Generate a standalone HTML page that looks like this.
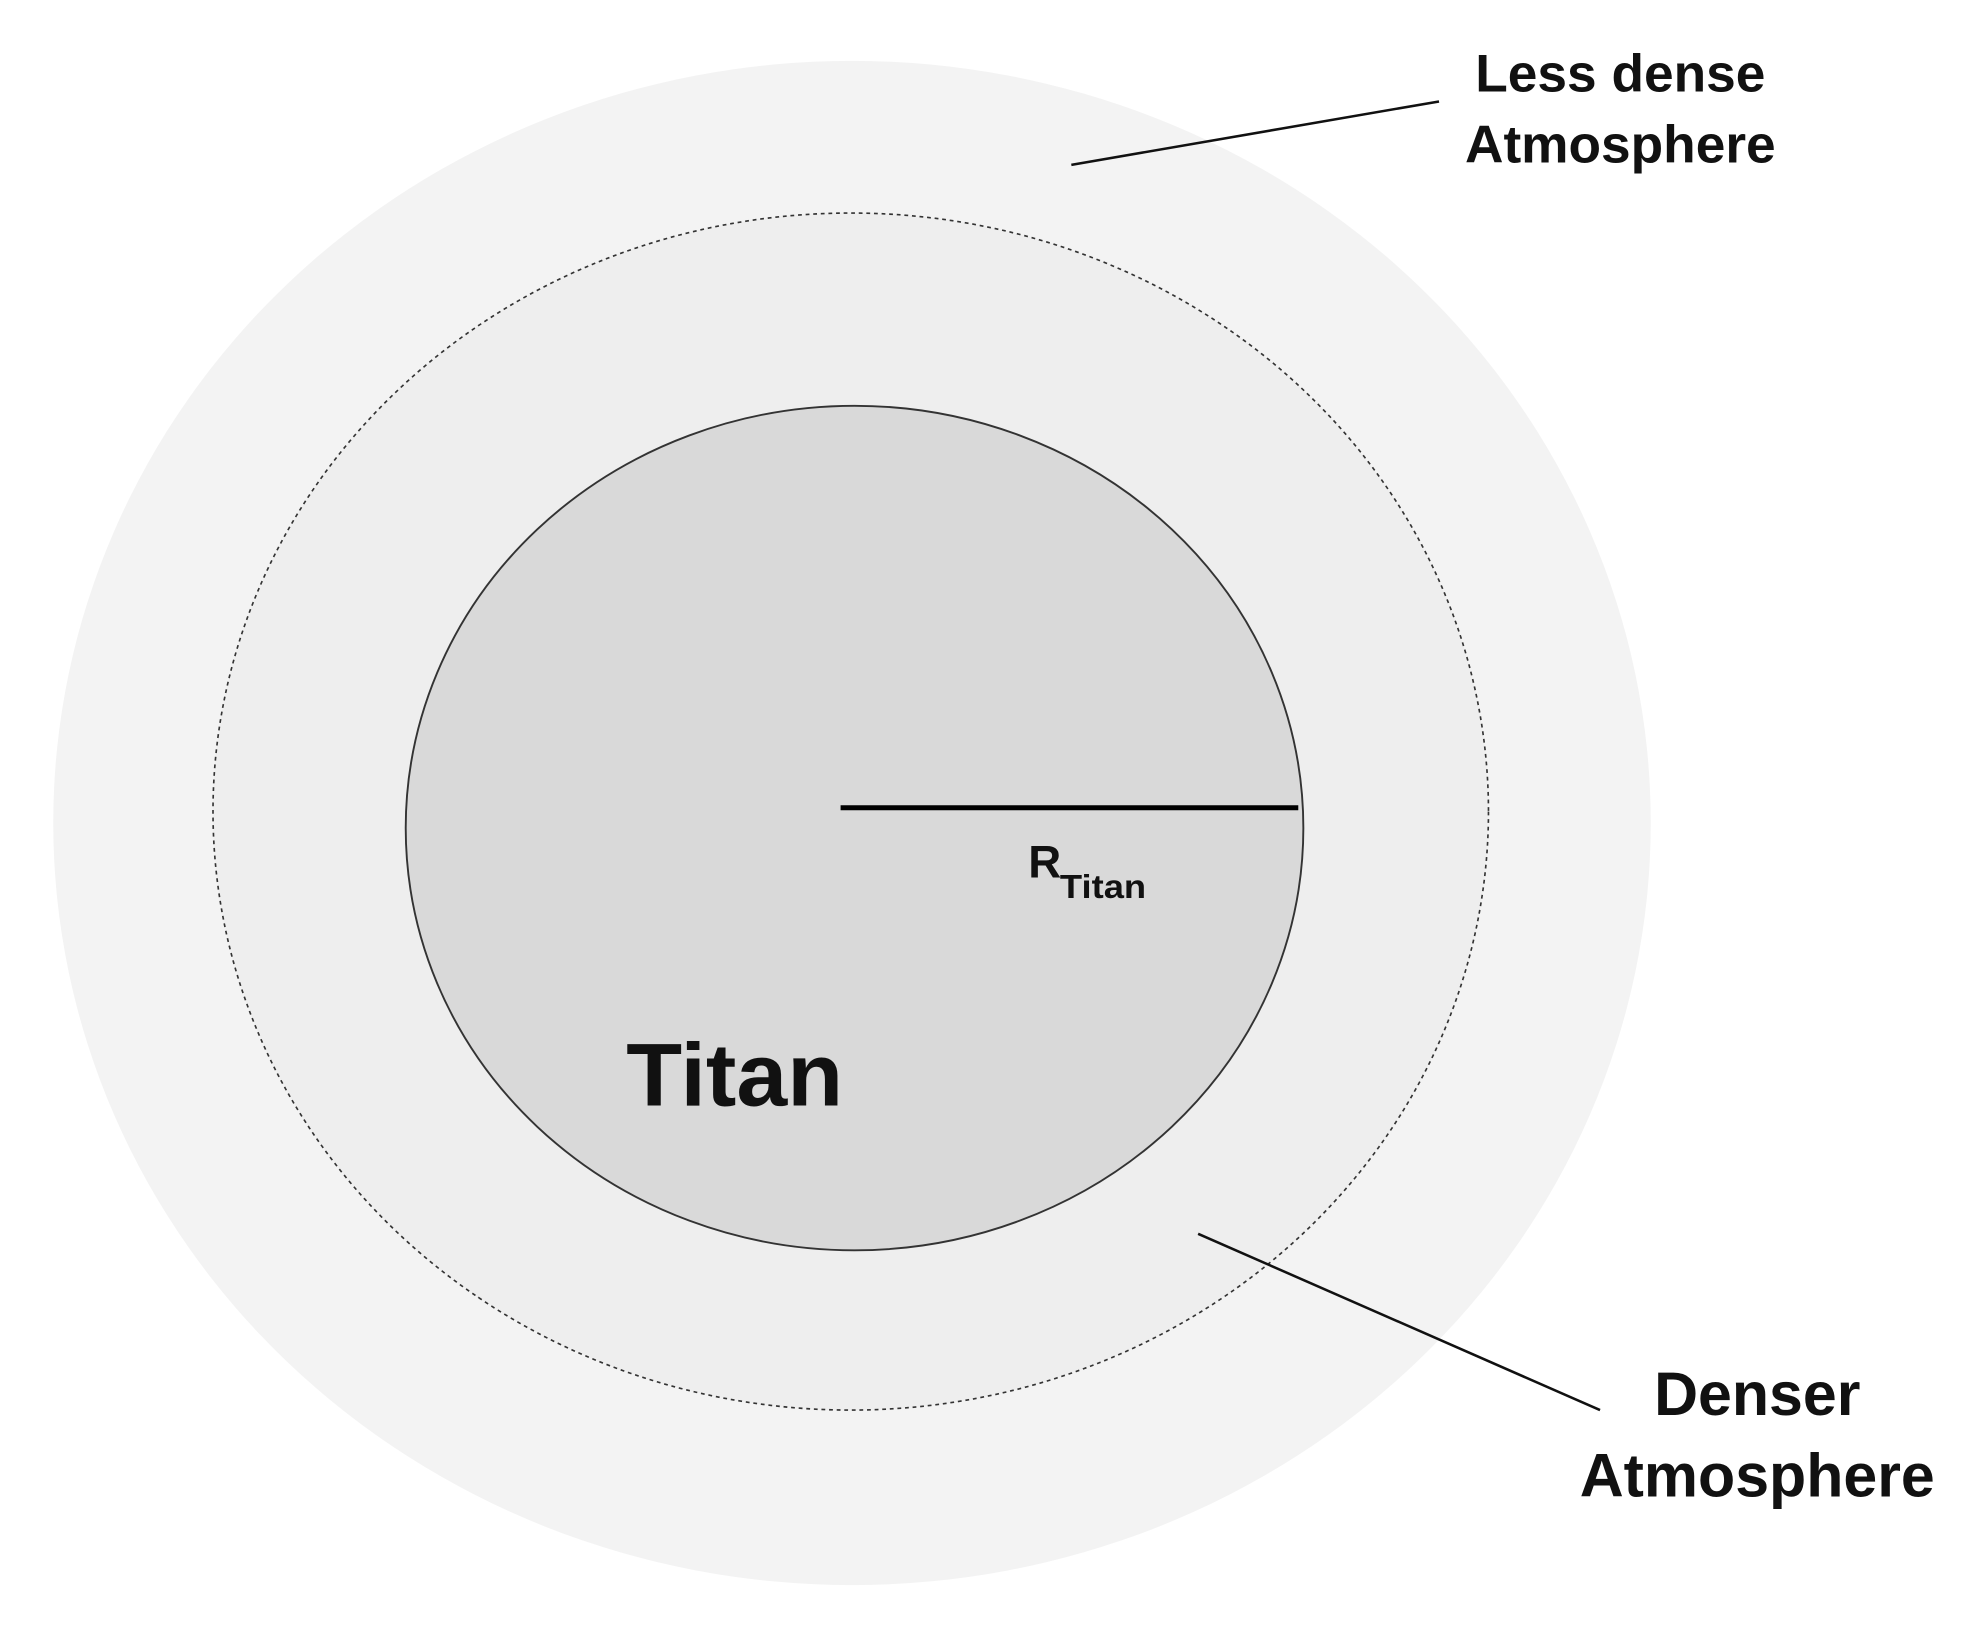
<!DOCTYPE html>
<html><head><meta charset="utf-8"><style>html,body{margin:0;padding:0;background:#fff}svg{display:block}</style></head>
<body>
<svg width="1988" height="1632" viewBox="0 0 1568 1287" preserveAspectRatio="none" xmlns="http://www.w3.org/2000/svg" font-family="Liberation Sans, sans-serif" font-weight="bold">
<rect width="1568" height="1287" fill="#fff"/>
<ellipse cx="672" cy="649" rx="630" ry="601" fill="#f3f3f3"/>
<ellipse cx="671" cy="640" rx="503" ry="472" fill="#eeeeee" stroke="#333" stroke-width="1.3" stroke-dasharray="3,3"/>
<ellipse cx="674" cy="653" rx="354" ry="333" fill="#d9d9d9" stroke="#333" stroke-width="1.5"/>
<line x1="663" y1="637" x2="1024" y2="637" stroke="#000" stroke-width="4"/>
<text x="811" y="692" font-size="36" fill="#111">R</text>
<text x="836" y="708" font-size="26" fill="#111" textLength="68" lengthAdjust="spacingAndGlyphs">Titan</text>
<text x="494" y="872" font-size="70" fill="#111" textLength="171" lengthAdjust="spacingAndGlyphs">Titan</text>
<line x1="845" y1="130" x2="1135" y2="80" stroke="#111" stroke-width="2"/>
<text x="1278" y="72" font-size="42" text-anchor="middle" fill="#111">Less dense</text>
<text x="1278" y="128" font-size="42" text-anchor="middle" fill="#111">Atmosphere</text>
<line x1="945" y1="973" x2="1262" y2="1112" stroke="#111" stroke-width="2"/>
<text x="1386" y="1116" font-size="48" text-anchor="middle" fill="#111">Denser</text>
<text x="1386" y="1180" font-size="48" text-anchor="middle" fill="#111">Atmosphere</text>
</svg>
</body></html>
